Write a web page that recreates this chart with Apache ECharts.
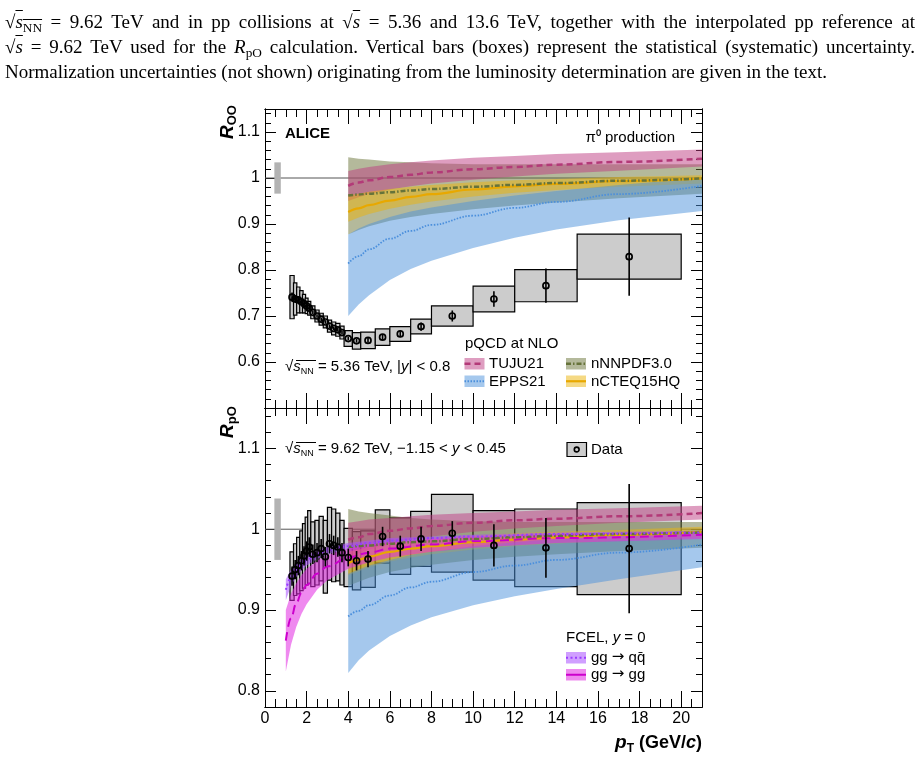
<!DOCTYPE html>
<html>
<head>
<meta charset="utf-8">
<script src="https://cdn.jsdelivr.net/npm/echarts@6/dist/echarts.min.js"></script>
<style>
html, body { margin: 0; padding: 0; background: #fff; }
#chart { width: 920px; height: 763px; }
#caption { position: absolute; left: 5px; top: 9px; width: 910px; font-family: "Liberation Serif", "DejaVu Serif", serif; font-size: 19px; line-height: 25px; color: #000; }
#caption div { white-space: nowrap; }
#caption .j { text-align: justify; text-align-last: justify; white-space: normal; }
#caption sub { font-size: 0.7em; line-height: 0; vertical-align: -0.3em; }
#caption .ov { text-decoration: overline; }
</style>
</head>
<body>
<div id="chart"></div>
<div id="caption">
  <div class="j">√<span class="ov"><i>s</i><sub>NN</sub></span> = 9.62 TeV and in pp collisions at √<span class="ov"><i>s</i></span> = 5.36 and 13.6 TeV, together with the interpolated pp reference at</div>
  <div class="j">√<span class="ov"><i>s</i></span> = 9.62 TeV used for the <i>R</i><sub>pO</sub> calculation. Vertical bars (boxes) represent the statistical (systematic) uncertainty.</div>
  <div>Normalization uncertainties (not shown) originating from the luminosity determination are given in the text.</div>
</div>
<script>
// pT bins of the data (GeV/c)
var pt     = [1.3, 1.45, 1.6, 1.75, 1.875, 2.0, 2.125, 2.3, 2.5, 2.7, 2.9, 3.1, 3.3, 3.5, 3.7, 4.0, 4.4, 4.95, 5.65, 6.5, 7.5, 9, 11, 13.5, 17.5];
var ptLow  = [1.2, 1.37, 1.52, 1.67, 1.8, 1.93, 2.05, 2.2, 2.4, 2.6, 2.8, 3.0, 3.2, 3.4, 3.6, 3.8, 4.2, 4.6, 5.3, 6.0, 7.0, 8.0, 10, 12, 15];
var ptHigh = [1.4, 1.53, 1.68, 1.83, 1.95, 2.07, 2.2, 2.4, 2.6, 2.8, 3.0, 3.2, 3.4, 3.6, 3.8, 4.2, 4.6, 5.3, 6.0, 7.0, 8.0, 10, 12, 15, 20];

// R_OO data
var rOO     = [0.741, 0.737, 0.735, 0.731, 0.727, 0.722, 0.717, 0.708, 0.700, 0.693, 0.687, 0.678, 0.673, 0.670, 0.664, 0.651, 0.646, 0.647, 0.654, 0.661, 0.677, 0.700, 0.737, 0.766, 0.829];
var rOOStat = [0.010, 0.008, 0.007, 0.006, 0.006, 0.005, 0.005, 0.004, 0.004, 0.004, 0.004, 0.004, 0.004, 0.004, 0.004, 0.004, 0.004, 0.005, 0.006, 0.007, 0.009, 0.012, 0.017, 0.037, 0.085];
var rOOSyst = [0.047, 0.035, 0.028, 0.024, 0.020, 0.017, 0.015, 0.014, 0.013, 0.013, 0.013, 0.013, 0.014, 0.014, 0.014, 0.017, 0.018, 0.018, 0.018, 0.016, 0.016, 0.022, 0.028, 0.035, 0.049];
var rOONorm = 0.034;

// R_pO data
var rpO     = [0.942, 0.950, 0.955, 0.961, 0.967, 0.973, 0.978, 0.969, 0.971, 0.976, 0.966, 0.982, 0.980, 0.978, 0.971, 0.965, 0.961, 0.963, 0.991, 0.979, 0.988, 0.995, 0.980, 0.977, 0.976];
var rpOStat = [0.012, 0.012, 0.012, 0.012, 0.012, 0.012, 0.012, 0.012, 0.012, 0.012, 0.012, 0.012, 0.012, 0.012, 0.012, 0.011, 0.012, 0.010, 0.012, 0.013, 0.015, 0.015, 0.026, 0.037, 0.080];
var rpOSyst = [0.030, 0.032, 0.035, 0.037, 0.040, 0.042, 0.045, 0.040, 0.040, 0.040, 0.045, 0.045, 0.045, 0.042, 0.040, 0.036, 0.036, 0.035, 0.033, 0.035, 0.034, 0.048, 0.043, 0.048, 0.057];
var rpONorm = 0.038;

// pQCD at NLO curves (pT grid)
var modelPt = [4, 4.5, 5, 6, 7, 8, 10, 12, 14, 17, 21];

var tujuOO     = [0.983, 0.990, 0.995, 1.002, 1.007, 1.012, 1.019, 1.024, 1.029, 1.035, 1.042];
var tujuOOLow  = [0.950, 0.958, 0.965, 0.975, 0.982, 0.988, 0.996, 1.003, 1.009, 1.016, 1.025];
var tujuOOHigh = [1.015, 1.020, 1.024, 1.030, 1.034, 1.038, 1.044, 1.048, 1.052, 1.056, 1.062];
var epsOO      = [0.814, 0.830, 0.845, 0.868, 0.885, 0.898, 0.918, 0.935, 0.948, 0.965, 0.983];
var epsOOLow   = [0.700, 0.725, 0.745, 0.778, 0.802, 0.820, 0.848, 0.870, 0.888, 0.908, 0.928];
var epsOOHigh  = [0.877, 0.890, 0.900, 0.915, 0.927, 0.936, 0.950, 0.962, 0.972, 0.985, 1.000];
var nnpdfOO     = [0.962, 0.964, 0.966, 0.969, 0.973, 0.976, 0.981, 0.985, 0.989, 0.994, 0.999];
var nnpdfOOLow  = [0.877, 0.887, 0.895, 0.907, 0.915, 0.922, 0.932, 0.940, 0.947, 0.956, 0.966];
var nnpdfOOHigh = [1.045, 1.042, 1.040, 1.036, 1.034, 1.032, 1.030, 1.030, 1.030, 1.030, 1.030];
var ncteqOO     = [0.926, 0.934, 0.941, 0.951, 0.959, 0.965, 0.975, 0.982, 0.987, 0.993, 0.999];
var ncteqOOLow  = [0.905, 0.914, 0.922, 0.933, 0.942, 0.949, 0.960, 0.968, 0.974, 0.981, 0.988];
var ncteqOOHigh = [0.962, 0.966, 0.970, 0.976, 0.981, 0.985, 0.991, 0.995, 0.998, 1.002, 1.006];

var tujupO     = [0.987, 0.990, 0.994, 0.998, 1.001, 1.004, 1.008, 1.011, 1.013, 1.016, 1.020];
var tujupOLow  = [0.965, 0.970, 0.975, 0.982, 0.987, 0.991, 0.997, 1.001, 1.004, 1.008, 1.012];
var tujupOHigh = [1.008, 1.010, 1.012, 1.014, 1.016, 1.018, 1.020, 1.022, 1.024, 1.026, 1.029];
var epspO      = [0.892, 0.899, 0.906, 0.918, 0.928, 0.935, 0.947, 0.955, 0.962, 0.971, 0.981];
var epspOLow   = [0.822, 0.838, 0.850, 0.868, 0.881, 0.891, 0.906, 0.917, 0.926, 0.938, 0.953];
var epspOHigh  = [0.945, 0.950, 0.955, 0.962, 0.968, 0.972, 0.979, 0.984, 0.988, 0.993, 0.999];
var nnpdfpO     = [0.978, 0.979, 0.980, 0.982, 0.984, 0.985, 0.988, 0.990, 0.992, 0.994, 0.996];
var nnpdfpOLow  = [0.930, 0.935, 0.940, 0.947, 0.952, 0.956, 0.962, 0.966, 0.969, 0.973, 0.977];
var nnpdfpOHigh = [1.025, 1.022, 1.020, 1.017, 1.014, 1.012, 1.010, 1.009, 1.009, 1.009, 1.009];
var ncteqpO     = [0.958, 0.962, 0.966, 0.972, 0.976, 0.979, 0.984, 0.987, 0.990, 0.993, 0.997];
var ncteqpOLow  = [0.943, 0.948, 0.953, 0.960, 0.965, 0.969, 0.975, 0.979, 0.982, 0.986, 0.990];
var ncteqpOHigh = [0.972, 0.975, 0.978, 0.982, 0.985, 0.988, 0.992, 0.995, 0.997, 0.999, 1.003];

// FCEL, y = 0
var fcelPt = [1, 1.25, 1.5, 1.75, 2, 2.5, 3, 4, 5, 6, 8, 10, 14, 21];
var fcelGG     = [0.862, 0.890, 0.908, 0.921, 0.931, 0.945, 0.954, 0.965, 0.971, 0.976, 0.981, 0.985, 0.989, 0.993];
var fcelGGLow  = [0.824, 0.857, 0.879, 0.895, 0.907, 0.925, 0.937, 0.951, 0.959, 0.965, 0.972, 0.977, 0.983, 0.988];
var fcelGGHigh = [0.900, 0.920, 0.933, 0.943, 0.951, 0.961, 0.968, 0.976, 0.981, 0.984, 0.988, 0.991, 0.994, 0.997];
var fcelQQ     = [0.925, 0.940, 0.950, 0.957, 0.962, 0.969, 0.974, 0.979, 0.983, 0.986, 0.989, 0.991, 0.994, 0.996];
var fcelQQLow  = [0.912, 0.930, 0.941, 0.949, 0.955, 0.963, 0.969, 0.975, 0.979, 0.983, 0.986, 0.989, 0.992, 0.995];
var fcelQQHigh = [0.938, 0.950, 0.958, 0.964, 0.968, 0.974, 0.978, 0.983, 0.986, 0.989, 0.991, 0.993, 0.996, 0.998];

// tick labels
var ptTicks = [0, 2, 4, 6, 8, 10, 12, 14, 16, 18, 20];
var rOOTicks = [0.6, 0.7, 0.8, 0.9, 1, 1.1];
var rpOTicks = [0.8, 0.9, 1, 1.1];

var FONT = '"Liberation Sans", Arial, sans-serif';
var C = {
    tujuBand: 'rgba(190,60,130,0.5)', tujuLine: '#b33a78',
    epsBand: 'rgba(75,145,220,0.5)', epsLine: '#4b8fdc',
    nnBand: 'rgba(105,115,55,0.5)', nnLine: '#66733a',
    ctBand: 'rgba(235,180,10,0.5)', ctLine: '#e8a800',
    qqBand: 'rgba(170,80,255,0.55)', qqLine: '#9a3cff',
    ggBand: 'rgba(225,40,225,0.55)', ggLine: '#cc00cc'
};

function xAx(grid, pos, interval, len, labels) {
    return {
        type: 'value', gridIndex: grid, position: pos, min: 0, max: 21, interval: interval,
        axisLine: { show: true, onZero: false, lineStyle: { color: '#000', width: 1 } },
        axisTick: { show: true, inside: true, length: len, lineStyle: { color: '#000', width: 1 } },
        axisLabel: labels ? {
            show: true, margin: 4, color: '#000', fontSize: 16, fontFamily: FONT,
            formatter: function (v) { return ptTicks.indexOf(v) >= 0 ? String(v) : ''; }
        } : { show: false },
        splitLine: { show: false }
    };
}
function yAx(grid, pos, min, max, interval, len, ticks, labels) {
    var a = {
        type: 'value', gridIndex: grid, position: pos, min: min, max: max,
        axisLine: { show: true, onZero: false, lineStyle: { color: '#000', width: 1 } },
        axisTick: { show: true, inside: true, length: len, lineStyle: { color: '#000', width: 1 } },
        axisLabel: { show: false },
        splitLine: { show: false }
    };
    if (interval) a.interval = interval;
    if (ticks) a.axisTick.customValues = ticks;
    if (labels) {
        a.axisLabel = {
            show: true, margin: 5, color: '#000', fontSize: 16, fontFamily: FONT,
            customValues: labels,
            formatter: function (v) { return String(Math.round(v * 100) / 100); }
        };
    }
    return a;
}

function boxes(xi, yi, val, syst) {
    return {
        type: 'custom', xAxisIndex: xi, yAxisIndex: yi, z: 2, silent: true,
        data: pt.map(function (x, i) { return [ptLow[i], ptHigh[i], val[i] - syst[i], val[i] + syst[i]]; }),
        encode: { x: [0, 1], y: [2, 3] },
        renderItem: function (params, api) {
            var a = api.coord([api.value(0), api.value(3)]);
            var b = api.coord([api.value(1), api.value(2)]);
            return { type: 'rect', shape: { x: a[0], y: a[1], width: b[0] - a[0], height: b[1] - a[1] },
                style: { fill: '#cccccc', stroke: '#000', lineWidth: 1.2 } };
        }
    };
}
function errBars(xi, yi, val, stat) {
    return {
        type: 'custom', xAxisIndex: xi, yAxisIndex: yi, z: 6, silent: true,
        data: pt.map(function (x, i) { return [x, val[i] - stat[i], val[i] + stat[i]]; }),
        encode: { x: 0, y: [1, 2] },
        renderItem: function (params, api) {
            var a = api.coord([api.value(0), api.value(1)]);
            var b = api.coord([api.value(0), api.value(2)]);
            return { type: 'line', shape: { x1: a[0], y1: a[1], x2: b[0], y2: b[1] },
                style: { stroke: '#000', lineWidth: 1.6 } };
        }
    };
}
function markers(xi, yi, val) {
    return {
        type: 'scatter', xAxisIndex: xi, yAxisIndex: yi, z: 7, silent: true,
        symbol: 'circle', symbolSize: 6,
        itemStyle: { color: 'rgba(0,0,0,0)', borderColor: '#000', borderWidth: 1.7, opacity: 1 },
        data: pt.map(function (x, i) { return [x, val[i]]; })
    };
}
function band(xi, yi, xs, lo, hi, color) {
    return {
        type: 'custom', xAxisIndex: xi, yAxisIndex: yi, z: 3, silent: true,
        data: xs.map(function (x, i) { return [x, lo[i], hi[i]]; }),
        encode: { x: 0, y: [1, 2] },
        renderItem: function (params, api) {
            if (params.dataIndex !== 0) return null;
            var pts = [];
            for (var i = 0; i < xs.length; i++) pts.push(api.coord([xs[i], hi[i]]));
            for (var j = xs.length - 1; j >= 0; j--) pts.push(api.coord([xs[j], lo[j]]));
            return { type: 'polygon', shape: { points: pts }, style: { fill: color } };
        }
    };
}
function curve(xi, yi, xs, ys, color, width, dash) {
    return {
        type: 'line', xAxisIndex: xi, yAxisIndex: yi, z: 4, silent: true,
        showSymbol: false, smooth: 0.4, smoothMonotone: 'x',
        lineStyle: { color: color, width: width, type: dash },
        data: xs.map(function (x, i) { return [x, ys[i]]; })
    };
}
function norm(xi, yi, n) {
    return {
        type: 'custom', xAxisIndex: xi, yAxisIndex: yi, z: 2, silent: true,
        data: [[1 - n, 1 + n]],
        encode: { y: [0, 1] },
        renderItem: function (params, api) {
            var a = api.coord([0.45, api.value(1)]);
            var b = api.coord([0.76, api.value(0)]);
            return { type: 'rect', shape: { x: a[0], y: a[1], width: b[0] - a[0], height: b[1] - a[1] },
                style: { fill: '#b3b3b3' } };
        }
    };
}
function unity(xi, yi) {
    return {
        type: 'line', xAxisIndex: xi, yAxisIndex: yi, z: 1, silent: true, showSymbol: false,
        lineStyle: { color: '#555', width: 1 },
        data: [[0, 1], [21, 1]]
    };
}

var DASH_TUJU = [6, 4], DOT_EPS = [1.5, 1.5], DASHDOT_NN = [5, 2, 1.5, 2], DOT_QQ = [2, 2.5], DASH_GG = [9, 5];

var series = [
    // top: R_OO
    unity(0, 0),
    norm(0, 0, rOONorm),
    boxes(0, 0, rOO, rOOSyst),
    band(0, 0, modelPt, nnpdfOOLow, nnpdfOOHigh, C.nnBand),
    band(0, 0, modelPt, tujuOOLow, tujuOOHigh, C.tujuBand),
    band(0, 0, modelPt, ncteqOOLow, ncteqOOHigh, C.ctBand),
    band(0, 0, modelPt, epsOOLow, epsOOHigh, C.epsBand),
    curve(0, 0, modelPt, tujuOO, C.tujuLine, 2.5, DASH_TUJU),
    curve(0, 0, modelPt, epsOO, C.epsLine, 1.8, DOT_EPS),
    curve(0, 0, modelPt, ncteqOO, C.ctLine, 2.2, 'solid'),
    curve(0, 0, modelPt, nnpdfOO, C.nnLine, 2.5, DASHDOT_NN),
    errBars(0, 0, rOO, rOOStat),
    markers(0, 0, rOO),
    // bottom: R_pO
    unity(4, 4),
    norm(4, 4, rpONorm),
    boxes(4, 4, rpO, rpOSyst),
    band(4, 4, modelPt, nnpdfpOLow, nnpdfpOHigh, C.nnBand),
    band(4, 4, modelPt, tujupOLow, tujupOHigh, C.tujuBand),
    band(4, 4, modelPt, ncteqpOLow, ncteqpOHigh, C.ctBand),
    band(4, 4, modelPt, epspOLow, epspOHigh, C.epsBand),
    band(4, 4, fcelPt, fcelQQLow, fcelQQHigh, C.qqBand),
    band(4, 4, fcelPt, fcelGGLow, fcelGGHigh, C.ggBand),
    curve(4, 4, modelPt, tujupO, C.tujuLine, 2.5, DASH_TUJU),
    curve(4, 4, modelPt, epspO, C.epsLine, 1.8, DOT_EPS),
    curve(4, 4, modelPt, ncteqpO, C.ctLine, 2.2, 'solid'),
    curve(4, 4, modelPt, nnpdfpO, C.nnLine, 2.5, DASHDOT_NN),
    curve(4, 4, fcelPt, fcelQQ, C.qqLine, 2, DOT_QQ),
    curve(4, 4, fcelPt, fcelGG, C.ggLine, 2, DASH_GG),
    errBars(4, 4, rpO, rpOStat),
    markers(4, 4, rpO)
];

// text and legends
var rich = {
    n: { fontSize: 15, fontFamily: FONT, color: '#000', lineHeight: 18 },
    it: { fontSize: 15, fontFamily: FONT, fontStyle: 'italic', color: '#000', lineHeight: 18 },
    ar: { fontSize: 15, fontFamily: '"DejaVu Sans"', color: '#000', lineHeight: 18 },
    sub: { fontSize: 9, fontFamily: FONT, color: '#000', lineHeight: 9, verticalAlign: 'bottom' }
};
function txt(x, y, text, align) {
    return { type: 'text', x: x, y: y, z: 100,
        style: { text: text, rich: rich, font: '15px ' + FONT, fill: '#000',
            align: align || 'left', textAlign: align || 'left', verticalAlign: 'middle', textVerticalAlign: 'middle' } };
}
function rect(x, y, w, h, fill, stroke) {
    return { type: 'rect', z: 100, shape: { x: x, y: y, width: w, height: h },
        style: { fill: fill, stroke: stroke || null, lineWidth: 1.2 } };
}
function hline(x1, x2, y, color, width, dash) {
    return { type: 'line', z: 101, shape: { x1: x1, y1: y, x2: x2, y2: y },
        style: { stroke: color, lineWidth: width, lineDash: dash === 'solid' ? null : dash } };
}
function swatch(x, y, band, line, width, dash) {
    return [rect(x, y, 20, 11.5, band), hline(x, x + 20, y + 5.75, line, width, dash)];
}
function title(x, y, main, sub, rot) {
    return { type: 'text', x: x, y: y, rotation: rot, z: 100,
        style: { text: '{r|' + main + '}{s|' + sub + '}', align: 'left', textAlign: 'left',
            verticalAlign: rot ? 'bottom' : 'middle', textVerticalAlign: rot ? 'bottom' : 'middle',
            rich: {
                r: { fontSize: 19, fontFamily: FONT, fontWeight: 'bold', fontStyle: 'italic', color: '#000', lineHeight: 22 },
                s: { fontSize: 13, fontFamily: FONT, fontWeight: 'bold', color: '#000', lineHeight: 8, verticalAlign: 'bottom' }
            } } };
}

var graphic = [
    title(239, 139, 'R', 'OO', Math.PI / 2),
    title(239, 438, 'R', 'pO', Math.PI / 2),
    { type: 'text', x: 702, y: 743, z: 100,
        style: { text: '{p|p}{t|T}{b| (GeV/}{bi|c}{b|)}', align: 'right', textAlign: 'right',
            verticalAlign: 'middle', textVerticalAlign: 'middle',
            rich: {
                p: { fontSize: 19, fontFamily: FONT, fontWeight: 'bold', fontStyle: 'italic', color: '#000', lineHeight: 24 },
                t: { fontSize: 12, fontFamily: FONT, fontWeight: 'bold', color: '#000', lineHeight: 8, verticalAlign: 'bottom' },
                b: { fontSize: 18, fontFamily: FONT, fontWeight: 'bold', color: '#000', lineHeight: 24 },
                bi: { fontSize: 18, fontFamily: FONT, fontWeight: 'bold', fontStyle: 'italic', color: '#000', lineHeight: 24 }
            } } },
    { type: 'text', x: 285, y: 134, z: 100,
        style: { text: 'ALICE', font: 'bold 15px ' + FONT, fill: '#000', verticalAlign: 'middle', textVerticalAlign: 'middle' } },
    txt(675, 138, 'π⁰ production', 'right'),
    txt(285, 367, '{n|√}{it|s}{sub|NN}{n| = 5.36 TeV, |}{it|y}{n|| < 0.8}'),
    hline(296, 316, 360.5, '#000', 1, 'solid'),
    txt(285, 449, '{n|√}{it|s}{sub|NN}{n| = 9.62 TeV, −1.15 < }{it|y}{n| < 0.45}'),
    hline(296, 316, 442.5, '#000', 1, 'solid'),

    txt(465, 344, 'pQCD at NLO'),
    txt(489, 364, 'TUJU21'),
    txt(489, 381.5, 'EPPS21'),
    txt(591, 364, 'nNNPDF3.0'),
    txt(591, 381.5, 'nCTEQ15HQ'),

    rect(567, 442.5, 19.5, 14, '#cccccc', '#000'),
    { type: 'circle', z: 101, shape: { cx: 576.7, cy: 449.5, r: 2.4 }, style: { fill: null, stroke: '#000', lineWidth: 1.6 } },
    txt(591, 449.5, 'Data'),

    txt(566, 638, '{n|FCEL, }{it|y}{n| = 0}'),
    txt(591, 657.5, '{n|gg }{ar|→}{n| qq\u0304}'),
    txt(591, 674.5, '{n|gg }{ar|→}{n| gg}')
].concat(
    swatch(464.5, 358, C.tujuBand, C.tujuLine, 2.5, DASH_TUJU),
    swatch(464.5, 375.5, C.epsBand, C.epsLine, 1.8, DOT_EPS),
    swatch(566, 358, C.nnBand, C.nnLine, 2.5, DASHDOT_NN),
    swatch(566, 375.5, C.ctBand, C.ctLine, 2.2, 'solid'),
    swatch(566, 652, C.qqBand, C.qqLine, 2, DOT_QQ),
    swatch(566, 669, C.ggBand, C.ggLine, 2, 'solid')
);

var option = {
    animation: false,
    backgroundColor: '#fff',
    grid: [
        { left: 265, top: 109, width: 437, height: 299, outerBoundsMode: 'none', containLabel: false },
        { left: 265, top: 408, width: 437, height: 299, outerBoundsMode: 'none', containLabel: false }
    ],
    xAxis: [
        xAx(0, 'bottom', 2, 15, false), xAx(0, 'bottom', 0.5, 8, false),
        xAx(0, 'top', 2, 15, false), xAx(0, 'top', 0.5, 8, false),
        xAx(1, 'bottom', 2, 16, true), xAx(1, 'bottom', 0.5, 8, false),
        xAx(1, 'top', 2, 16, false), xAx(1, 'top', 0.5, 8, false)
    ],
    yAxis: [
        yAx(0, 'left', 0.5, 1.15, null, 11, rOOTicks, rOOTicks), yAx(0, 'left', 0.5, 1.15, 0.02, 6),
        yAx(0, 'right', 0.5, 1.15, null, 11, rOOTicks), yAx(0, 'right', 0.5, 1.15, 0.02, 6),
        yAx(1, 'left', 0.78, 1.15, null, 11, rpOTicks, rpOTicks), yAx(1, 'left', 0.78, 1.15, 0.02, 6),
        yAx(1, 'right', 0.78, 1.15, null, 11, rpOTicks), yAx(1, 'right', 0.78, 1.15, 0.02, 6)
    ],
    series: series,
    graphic: graphic
};

var myChart = echarts.init(document.getElementById('chart'));
myChart.setOption(option);
</script>
</body>
</html>
